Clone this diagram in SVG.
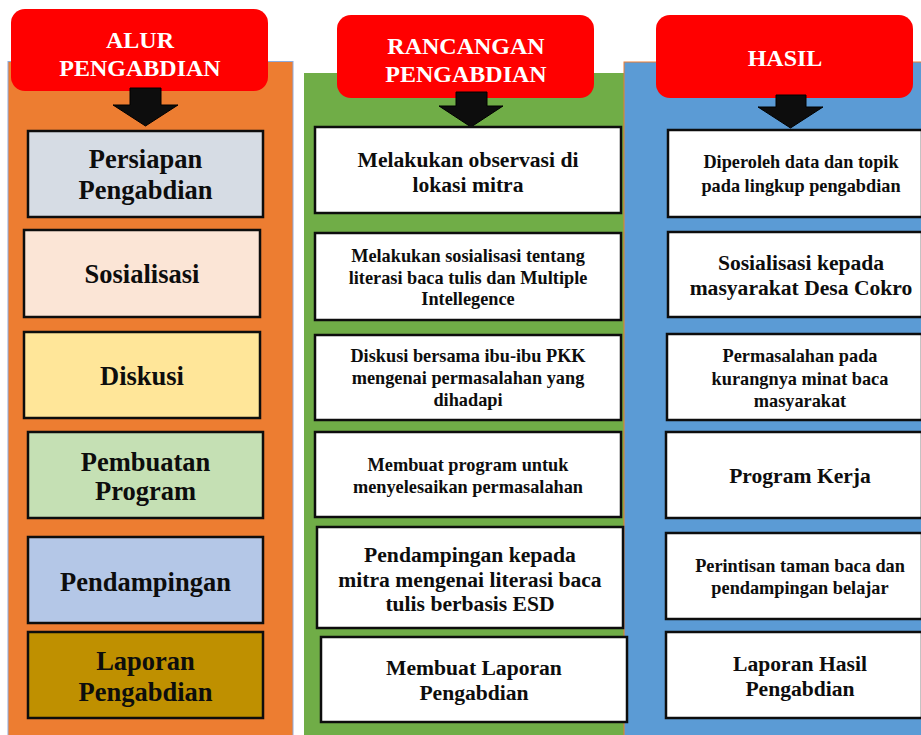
<svg xmlns="http://www.w3.org/2000/svg" width="921" height="735" viewBox="0 0 921 735">
<style>
text{font-family:'Liberation Serif','Times New Roman','DejaVu Serif',serif;font-weight:700;text-anchor:middle;dominant-baseline:central;fill:#0d0d0d}
.hd{fill:#fff;font-size:24px}
.box{stroke:#0d0d0d;stroke-width:2.5}
.w{fill:#fff}
.l{font-size:26.5px}
.m{font-size:21.6px}
.s{font-size:18.3px}
.hdr{fill:#ff0000}
.arr{fill:#0d0d0d;stroke:#000;stroke-width:1}
</style>
<rect width="921" height="735" fill="#fff"/>
<g id="panels">
<rect x="8" y="61.5" width="285" height="680" fill="#ed7d31" stroke="#8faadc" stroke-width="1"/>
<rect x="304" y="73" width="320" height="670" fill="#70ad47"/>
<rect x="624" y="62" width="305" height="680" fill="#5b9bd5" stroke="#ed7d31" stroke-width="1"/>
</g>
<g id="h1"><rect class="hdr" x="11" y="9" width="257" height="82" rx="14"/><text class="hd" x="140" y="40">ALUR</text><text class="hd" x="140" y="68">PENGABDIAN</text></g>
<g id="h2"><rect class="hdr" x="337" y="15" width="257" height="83" rx="14"/><text class="hd" x="466" y="46">RANCANGAN</text><text class="hd" x="466" y="74">PENGABDIAN</text></g>
<g id="h3"><rect class="hdr" x="656" y="15" width="257" height="83" rx="14"/><text class="hd" x="785" y="58">HASIL</text></g>
<g id="connectors">
<polygon class="arr" points="130,88 161,88 161,105 178,105 145.5,126 113,105 130,105"/>
<polygon class="arr" points="456,92 487,92 487,106 503,106 471,127 439,106 456,106"/>
<polygon class="arr" points="776,95 806,95 806,107 823,107 790.5,128 758,107 776,107"/>
</g>
<g id="a1"><rect class="box" x="28" y="131" width="235" height="86" fill="#d6dce4"/><text class="l" x="145.5" y="159">Persiapan</text><text class="l" x="145.5" y="190">Pengabdian</text></g>
<g id="a2"><rect class="box" x="24" y="230" width="236" height="87" fill="#fbe5d6"/><text class="l" x="142" y="274">Sosialisasi</text></g>
<g id="a3"><rect class="box" x="24" y="332" width="236" height="86" fill="#ffe699"/><text class="l" x="142" y="376">Diskusi</text></g>
<g id="a4"><rect class="box" x="28" y="432" width="235" height="86" fill="#c5e0b4"/><text class="l" x="145.5" y="462">Pembuatan</text><text class="l" x="145.5" y="491">Program</text></g>
<g id="a5"><rect class="box" x="28" y="537" width="235" height="86" fill="#b4c7e7"/><text class="l" x="145.5" y="582">Pendampingan</text></g>
<g id="a6"><rect class="box" x="28" y="632" width="235" height="86" fill="#bf9000"/><text class="l" x="145.5" y="661">Laporan</text><text class="l" x="145.5" y="692">Pengabdian</text></g>
<g id="b1"><rect class="box w" x="315" y="127" width="306" height="86"/><text class="m" x="468" y="160">Melakukan observasi di</text><text class="m" x="468" y="185">lokasi mitra</text></g>
<g id="b2"><rect class="box w" x="315" y="233" width="306" height="87"/><text class="s" x="468" y="256">Melakukan sosialisasi tentang</text><text class="s" x="468" y="278">literasi baca tulis dan Multiple</text><text class="s" x="468" y="299">Intellegence</text></g>
<g id="b3"><rect class="box w" x="315" y="335" width="306" height="85"/><text class="s" x="468" y="356">Diskusi bersama ibu-ibu PKK</text><text class="s" x="468" y="378">mengenai permasalahan yang</text><text class="s" x="468" y="400">dihadapi</text></g>
<g id="b4"><rect class="box w" x="315" y="432" width="306" height="85"/><text class="s" x="468" y="465">Membuat program untuk</text><text class="s" x="468" y="487">menyelesaikan permasalahan</text></g>
<g id="b5"><rect class="box w" x="317" y="527" width="306" height="101"/><text class="m" x="470" y="555">Pendampingan kepada</text><text class="m" x="470" y="580">mitra mengenai literasi baca</text><text class="m" x="470" y="604">tulis berbasis ESD</text></g>
<g id="b6"><rect class="box w" x="321" y="637" width="306" height="85"/><text class="m" x="474" y="668">Membuat Laporan</text><text class="m" x="474" y="693">Pengabdian</text></g>
<g id="c1"><rect class="box w" x="668" y="130" width="254" height="87"/><text class="s" x="801" y="162">Diperoleh data dan topik</text><text class="s" x="801" y="186">pada lingkup pengabdian</text></g>
<g id="c2"><rect class="box w" x="668" y="232" width="254" height="85"/><text class="m" x="801" y="263">Sosialisasi kepada</text><text class="m" x="801" y="288">masyarakat Desa Cokro</text></g>
<g id="c3"><rect class="box w" x="667" y="334" width="255" height="86"/><text class="s" x="800" y="356">Permasalahan pada</text><text class="s" x="800" y="379">kurangnya minat baca</text><text class="s" x="800" y="401">masyarakat</text></g>
<g id="c4"><rect class="box w" x="666" y="432" width="256" height="86"/><text class="m" x="800" y="476">Program Kerja</text></g>
<g id="c5"><rect class="box w" x="666" y="533" width="256" height="86"/><text class="s" x="800" y="566">Perintisan taman baca dan</text><text class="s" x="800" y="588">pendampingan belajar</text></g>
<g id="c6"><rect class="box w" x="666" y="632" width="256" height="86"/><text class="m" x="800" y="664">Laporan Hasil</text><text class="m" x="800" y="689">Pengabdian</text></g>
</svg>
